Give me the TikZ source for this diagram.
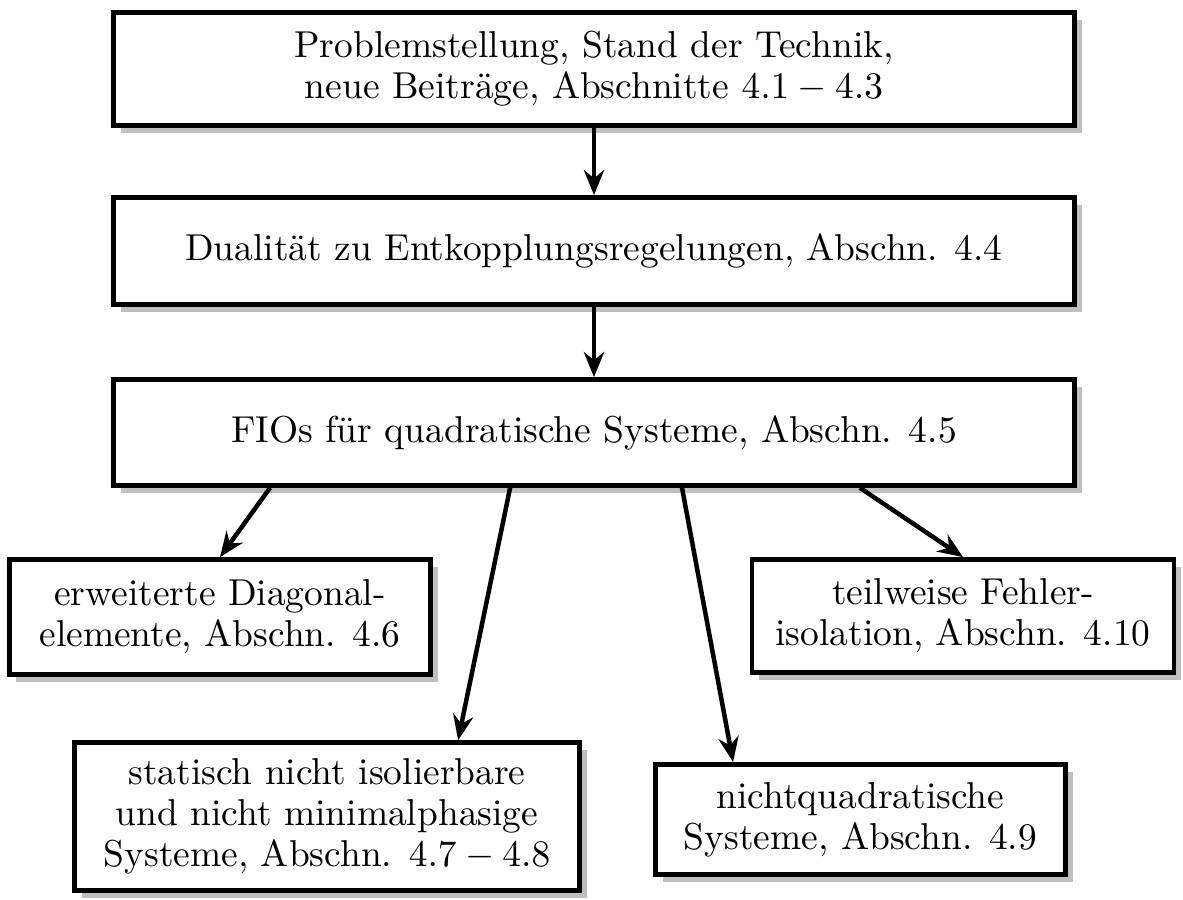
\documentclass[tikz,border=0pt]{standalone}
\usepackage{amsmath,amssymb}
\usepackage{tikz}
\usetikzlibrary{arrows,arrows.meta,shadows}

\begin{document}
\begin{tikzpicture}[x=0.267pt, y=-0.267pt, ->, >={Stealth[length=6.7pt,width=5.4pt,inset=2.2pt]}, very thick,
  block/.style={rectangle, draw, fill=white, line width=1.25pt, align=center,
    font=\fontsize{10pt}{11pt}\selectfont,
    drop shadow={shadow xshift=1.9pt, shadow yshift=-1.9pt, fill=black!25, opacity=1}}]

\useasboundingbox (0,0) rectangle (1183,900);

\node[block, minimum width=256.6pt, minimum height=30.2pt](1) at (594,69) {Problemstellung, Stand der Technik,\\ neue Beitr\"age, Abschnitte $4.1-4.3$};
\node[block, minimum width=256.6pt, minimum height=28.6pt](2) at (594,251) {Dualit\"at zu Entkopplungsregelungen, Abschn. 4.4};
\node[block, minimum width=256.6pt, minimum height=28.3pt](3) at (594,432.5) {FIOs f\"ur quadratische Systeme, Abschn. 4.5};
\node[block, minimum width=112.5pt, minimum height=30.7pt](4) at (220,617) {erweiterte Diagonal-\\ elemente, Abschn. 4.6};
\node[block, minimum width=112.7pt, minimum height=30.2pt](5) at (963,616) {teilweise Fehler-\\ isolation, Abschn. 4.10};
\node[block, minimum width=134.8pt, minimum height=39.5pt](6) at (327,816.5) {statisch nicht isolierbare\\ und nicht minimalphasige\\ Systeme, Abschn. $4.7-4.8$};
\node[block, minimum width=109.5pt, minimum height=29.4pt](7) at (860.5,819.5) {nichtquadratische\\ Systeme, Abschn. 4.9};

\draw (1) -- (2);
\draw (2) -- (3);
\draw ([xshift=-86.5pt]3.south) -- (4.north);
\draw ([xshift=-22.4pt]3.south) -- ([xshift=35pt]6.north);
\draw ([xshift=23.5pt]3.south) -- ([xshift=-34pt]7.north);
\draw ([xshift=71pt]3.south) -- (5.north);

\end{tikzpicture}
\end{document}
